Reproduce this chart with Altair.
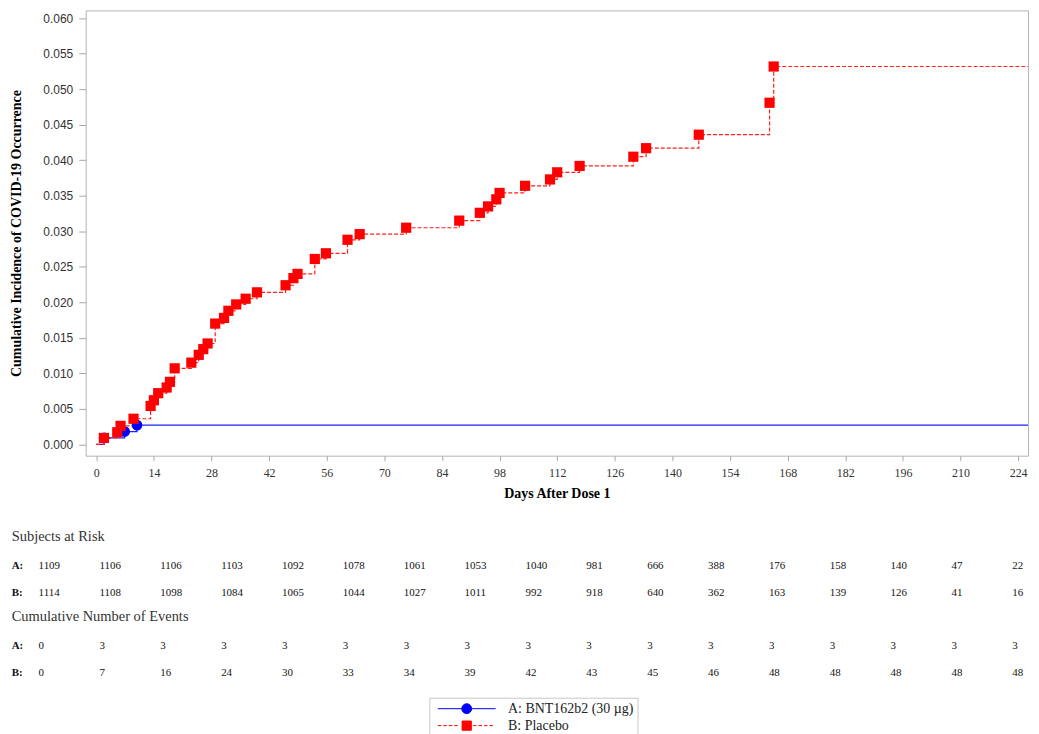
import altair as alt
import pandas as pd

SERIF = "Liberation Serif"
SANS = "Liberation Sans"
GROUPS = ["A: BNT162b2 (30 µg)", "B: Placebo"]
COLORS = ["#0000ff", "#ff0000"]

# ---- cumulative incidence ----
a_days = [1.9, 6.9, 9.9]
a_cum = [0.0009, 0.0018, 0.0027]

b_days = [1.85, 5.1, 5.9, 9.05, 13.2, 14.0, 15.05, 17.1, 17.9, 19.05,
          23.1, 24.9, 26.0, 27.05, 28.9, 31.05, 32.1, 34.0, 36.3, 39.05,
          46.0, 47.9, 48.9, 53.1, 55.8, 61.05, 64.0, 75.3, 88.2, 93.2,
          95.2, 97.2, 98.0, 104.2, 110.25, 112.0, 117.45, 130.5, 133.6, 146.4,
          163.6, 164.6]
b_cum = [0.0009, 0.0017, 0.0026, 0.0036, 0.0054, 0.0062, 0.0072, 0.0080, 0.0088, 0.0107,
         0.0115, 0.0126, 0.0134, 0.0142, 0.0170, 0.0178, 0.0188, 0.0197, 0.0205, 0.0214,
         0.0224, 0.0234, 0.0240, 0.0261, 0.0269, 0.0288, 0.0296, 0.0305, 0.0315, 0.0326,
         0.0335, 0.0345, 0.0354, 0.0364, 0.0373, 0.0383, 0.0392, 0.0405, 0.0417, 0.0436,
         0.0481, 0.0532]
last_day = 226.4

x_ticks = [0, 14, 28, 42, 56, 70, 84, 98, 112, 126, 140, 154, 168, 182, 196, 210, 224]
y_ticks = [0.000, 0.005, 0.010, 0.015, 0.020, 0.025, 0.030, 0.035, 0.040, 0.045,
           0.050, 0.055, 0.060]

# ---- risk table ----
table_days = [0, 14, 28, 42, 56, 70, 84, 98, 112, 126, 140, 154, 168, 182, 196, 210, 224]
risk_a = [1109, 1106, 1106, 1103, 1092, 1078, 1061, 1053, 1040, 981, 666, 388, 176, 158, 140, 47, 22]
risk_b = [1114, 1108, 1098, 1084, 1065, 1044, 1027, 1011, 992, 918, 640, 362, 163, 139, 126, 41, 16]
events_a = [0, 3, 3, 3, 3, 3, 3, 3, 3, 3, 3, 3, 3, 3, 3, 3, 3]
events_b = [0, 7, 16, 24, 30, 33, 34, 39, 42, 43, 45, 46, 48, 48, 48, 48, 48]


def step_frame(days, cum):
    return pd.DataFrame({"day": [0.0] + days + [last_day], "cum": [0.0] + cum + [cum[-1]]})


line_a_df = step_frame(a_days, a_cum)
line_b_df = step_frame(b_days, b_cum)
pts_a_df = pd.DataFrame({"day": a_days, "cum": a_cum})
pts_b_df = pd.DataFrame({"day": b_days, "cum": b_cum})

W = 946
H = 447

x_enc = alt.X(
    "day:Q",
    scale=alt.Scale(domain=[-2.57, 226.4], nice=False, zero=False),
    axis=alt.Axis(values=x_ticks, format="d", title="Days After Dose 1", grid=False,
                  domain=False, tickSize=5, labelPadding=7, titlePadding=8,
                  labelFont=SERIF, labelFontSize=12),
)
y_enc = alt.Y(
    "cum:Q",
    scale=alt.Scale(domain=[-0.0016, 0.0611], nice=False, zero=False),
    axis=alt.Axis(values=y_ticks, format=".3f",
                  title="Cumulative Incidence of COVID-19 Occurrence", grid=False,
                  domain=False, tickSize=7, labelPadding=6, titlePadding=19.5,
                  labelFont=SANS, labelFontSize=12),
)

line_a = alt.Chart(line_a_df).mark_line(
    interpolate="step-after", color="#2020ff", strokeWidth=1.2
).encode(x=x_enc, y=y_enc)
line_b = alt.Chart(line_b_df).mark_line(
    interpolate="step-after", color="#ff2020", strokeWidth=1.2, strokeDash=[4, 2]
).encode(x=x_enc, y=y_enc)
pts_a = alt.Chart(pts_a_df).mark_point(
    shape="circle", filled=True, size=115, color="#0000ff", opacity=1
).encode(x=x_enc, y=y_enc)
pts_b = alt.Chart(pts_b_df).mark_point(
    shape="square", filled=True, size=105, color="#ff0000", opacity=1
).encode(x=x_enc, y=y_enc)


# legend symbols: line + marker drawn as custom SVG paths
def circle_path(r):
    return f"M{-r},0A{r},{r},0,1,1,{r},0A{r},{r},0,1,1,{-r},0Z"


path_a = "M-1,0H1" + circle_path(0.17)
dash_starts = [-1.0, -0.81, -0.62, -0.43, 0.22, 0.41, 0.60, 0.79]
path_b = "".join(f"M{s:.2f},0H{min(s + 0.12, 1.0):.2f}" for s in dash_starts) + \
    "M-0.16,-0.16H0.16V0.16H-0.16Z"


def make_legend():
    return alt.Legend(title=None, orient="none", legendX=345, legendY=690,
                      symbolSize=3364, symbolStrokeWidth=1, symbolOpacity=1,
                      symbolOffset=4, clipHeight=14,
                      labelFont=SERIF, labelFontSize=14, labelColor="#222",
                      strokeColor="#c8c8c8", fillColor="white", padding=4,
                      labelOffset=12, rowPadding=3)


leg_df = pd.DataFrame({"grp": GROUPS})
legend_layer = alt.Chart(leg_df).transform_filter("false").mark_point(filled=True).encode(
    color=alt.Color("grp:N", scale=alt.Scale(domain=GROUPS, range=COLORS), legend=make_legend()),
    stroke=alt.Stroke("grp:N", scale=alt.Scale(domain=GROUPS, range=COLORS), legend=make_legend()),
    shape=alt.Shape("grp:N", scale=alt.Scale(domain=GROUPS, range=[path_a, path_b]), legend=make_legend()),
)

top = alt.layer(line_a, line_b, pts_a, pts_b, legend_layer).properties(width=W, height=H)

# ---- table panel ----
rows = ["hdr_risk", "A_risk", "B_risk", "hdr_events", "A_events", "B_events"]
vals_df = pd.concat([
    pd.DataFrame({"day": table_days, "row": "A_risk", "txt": [str(v) for v in risk_a]}),
    pd.DataFrame({"day": table_days, "row": "B_risk", "txt": [str(v) for v in risk_b]}),
    pd.DataFrame({"day": table_days, "row": "A_events", "txt": [str(v) for v in events_a]}),
    pd.DataFrame({"day": table_days, "row": "B_events", "txt": [str(v) for v in events_b]}),
], ignore_index=True)
lab_df = pd.DataFrame({"day": [0, 0, 0, 0],
                       "row": ["A_risk", "B_risk", "A_events", "B_events"],
                       "txt": ["A:", "B:", "A:", "B:"]})
hdr_df = pd.DataFrame({"day": [0, 0], "row": ["hdr_risk", "hdr_events"],
                       "txt": ["Subjects at Risk", "Cumulative Number of Events"]})

tx = alt.X("day:Q", scale=alt.Scale(domain=[10.84, 227.61], nice=False, zero=False), axis=None)
ty = alt.Y("row:N", scale=alt.Scale(domain=rows, type="point", padding=0), axis=None)

t_vals = alt.Chart(vals_df).mark_text(align="left", baseline="middle", font=SERIF,
                                      fontSize=11, color="#111").encode(x=tx, y=ty, text="txt:N")
t_labs = alt.Chart(lab_df).mark_text(align="left", baseline="middle", font=SERIF, dx=-27,
                                     fontSize=11, fontWeight="bold", color="#111").encode(x=tx, y=ty, text="txt:N")
t_hdrs = alt.Chart(hdr_df).mark_text(align="left", baseline="middle", font=SERIF, dx=-27, dy=-2,
                                     fontSize=14.5, color="#333").encode(x=tx, y=ty, text="txt:N")

table = alt.layer(t_vals, t_labs, t_hdrs).properties(
    width=W, height=134, view=alt.ViewBackground(stroke="transparent"))

chart = alt.vconcat(top, table, spacing=27).properties(padding=0).configure_view(
    stroke="#b4b4b4"
).configure_axis(
    labelColor="#333",
    titleFont=SERIF, titleFontSize=14, titleFontWeight="bold", titleColor="#000",
    tickColor="#a8a8a8",
)

chart.save("out.html", embed_options={"renderer": "svg", "actions": False})
